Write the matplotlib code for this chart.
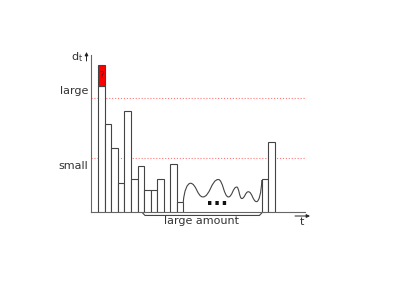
"""
Sketch of d_t over t: a few tall bars, then a long run of small values
"""
import matplotlib.pyplot as plt
from matplotlib.path import Path
from matplotlib.patches import PathPatch

# bar positions (in bar widths) and heights (axis goes 0..10)
BAR_POS = [0, 1, 2, 3, 4, 5, 6, 7, 8, 9, 11, 12, 25, 26]
BAR_H = [8.04, 5.61, 4.10, 1.87, 6.43, 2.08, 2.93, 1.37, 1.37, 2.08, 3.04, 0.62, 2.08, 4.44]

# unknown part on top of the first bar
RED_BOTTOM = 8.04
RED_TOP = 9.39

# thresholds
LARGE = 7.24
SMALL = 3.44

# wavy part between the bars (start, extrema, end)
WAVE_X = [13.0, 14.1, 16.0, 18.35, 19.9, 21.16, 21.93, 22.94, 24.2, 25.0]
WAVE_Y = [0.64, 1.83, 0.96, 2.07, 0.96, 1.59, 0.86, 1.29, 0.66, 2.04]

# bracket under the axis for the "large amount" part
BRACE_X = [6.64, 7.14, 24.63, 25.13]
BRACE_Y = [0.0, -0.22, -0.22, 0.0]

LINE = '#444444'


def wave_path(xs, ys):
    """Smooth curve through the points, flat tangents at the extrema"""
    verts = [(xs[0], ys[0])]
    codes = [Path.MOVETO]
    n = len(xs)
    for i in range(n - 1):
        x0, y0, x1, y1 = xs[i], ys[i], xs[i + 1], ys[i + 1]
        dx = x1 - x0
        if i == 0:
            c1 = (x0 + 0.1 * dx, y0 + 0.6 * (y1 - y0))
        else:
            c1 = (x0 + 0.45 * dx, y0)
        if i == n - 2:
            c2 = (x1 - 0.1 * dx, y1 - 0.6 * (y1 - y0))
        else:
            c2 = (x1 - 0.45 * dx, y1)
        verts += [c1, c2, (x1, y1)]
        codes += [Path.CURVE4] * 3
    return Path(verts, codes)


def small_arrow(ax, start, end):
    """Little arrow next to an axis name (figure pixels)"""
    ax.annotate('', xy=end, xytext=start, xycoords='figure pixels',
                arrowprops=dict(arrowstyle='-|>', color='#222222', lw=0.7,
                                mutation_scale=5, shrinkA=0, shrinkB=0))


def main():
    plt.rcParams['mathtext.default'] = 'regular'
    fig = plt.figure(figsize=(4.03, 3.0), dpi=100)
    ax = fig.add_axes([0.2251, 0.2933, 0.5317, 0.5234])
    ax.set_xlim(-1.16, 31.6)
    ax.set_ylim(0, 10)

    ax.bar(BAR_POS, BAR_H, width=1, align='edge', color='white',
           edgecolor=LINE, linewidth=0.8, zorder=3)
    ax.bar([BAR_POS[0]], [RED_TOP - RED_BOTTOM], bottom=RED_BOTTOM, width=1,
           align='edge', color='#ff0000', edgecolor=LINE, linewidth=0.8, zorder=3)
    ax.text(BAR_POS[0] + 0.5, (RED_TOP + RED_BOTTOM) / 2, '?', fontsize=6,
            ha='center', va='center', color='#550000', zorder=4)

    ax.axhline(LARGE, color='#ff7777', linestyle=':', linewidth=0.8, zorder=1)
    ax.axhline(SMALL, color='#ff7777', linestyle=':', linewidth=0.8, zorder=1)
    ax.text(-1.55, 7.68, 'large', fontsize=8, ha='right', va='center', color='#333333')
    ax.text(-1.55, 2.90, 'small', fontsize=8, ha='right', va='center', color='#333333')

    ax.add_patch(PathPatch(wave_path(WAVE_X, WAVE_Y), facecolor='none',
                           edgecolor=LINE, linewidth=0.8, zorder=3))
    ax.text(18.1, 0.8, '...', fontsize=14, fontweight='bold', ha='center',
            va='center', color='#111111')

    ax.plot(BRACE_X, BRACE_Y, color=LINE, linewidth=0.8, clip_on=False)
    ax.text(15.75, -0.6, 'large amount', fontsize=8, ha='center', va='center',
            color='#333333')

    # axis names with small arrows
    ax.text(-3.25, 9.85, '$d_t$', fontsize=8, ha='center', va='center', color='#333333')
    small_arrow(ax, (86.5, 239), (86.5, 248))
    ax.text(31.1, -0.62, 't', fontsize=8, ha='center', va='center', color='#333333')
    small_arrow(ax, (295, 84), (310, 84))

    for s in ['top', 'right']:
        ax.spines[s].set_visible(False)
    for s in ['left', 'bottom']:
        ax.spines[s].set_color('#666666')
        ax.spines[s].set_linewidth(0.8)
    ax.set_xticks([])
    ax.set_yticks([])

    fig.savefig('out.png', dpi=100)


if __name__ == '__main__': main()
